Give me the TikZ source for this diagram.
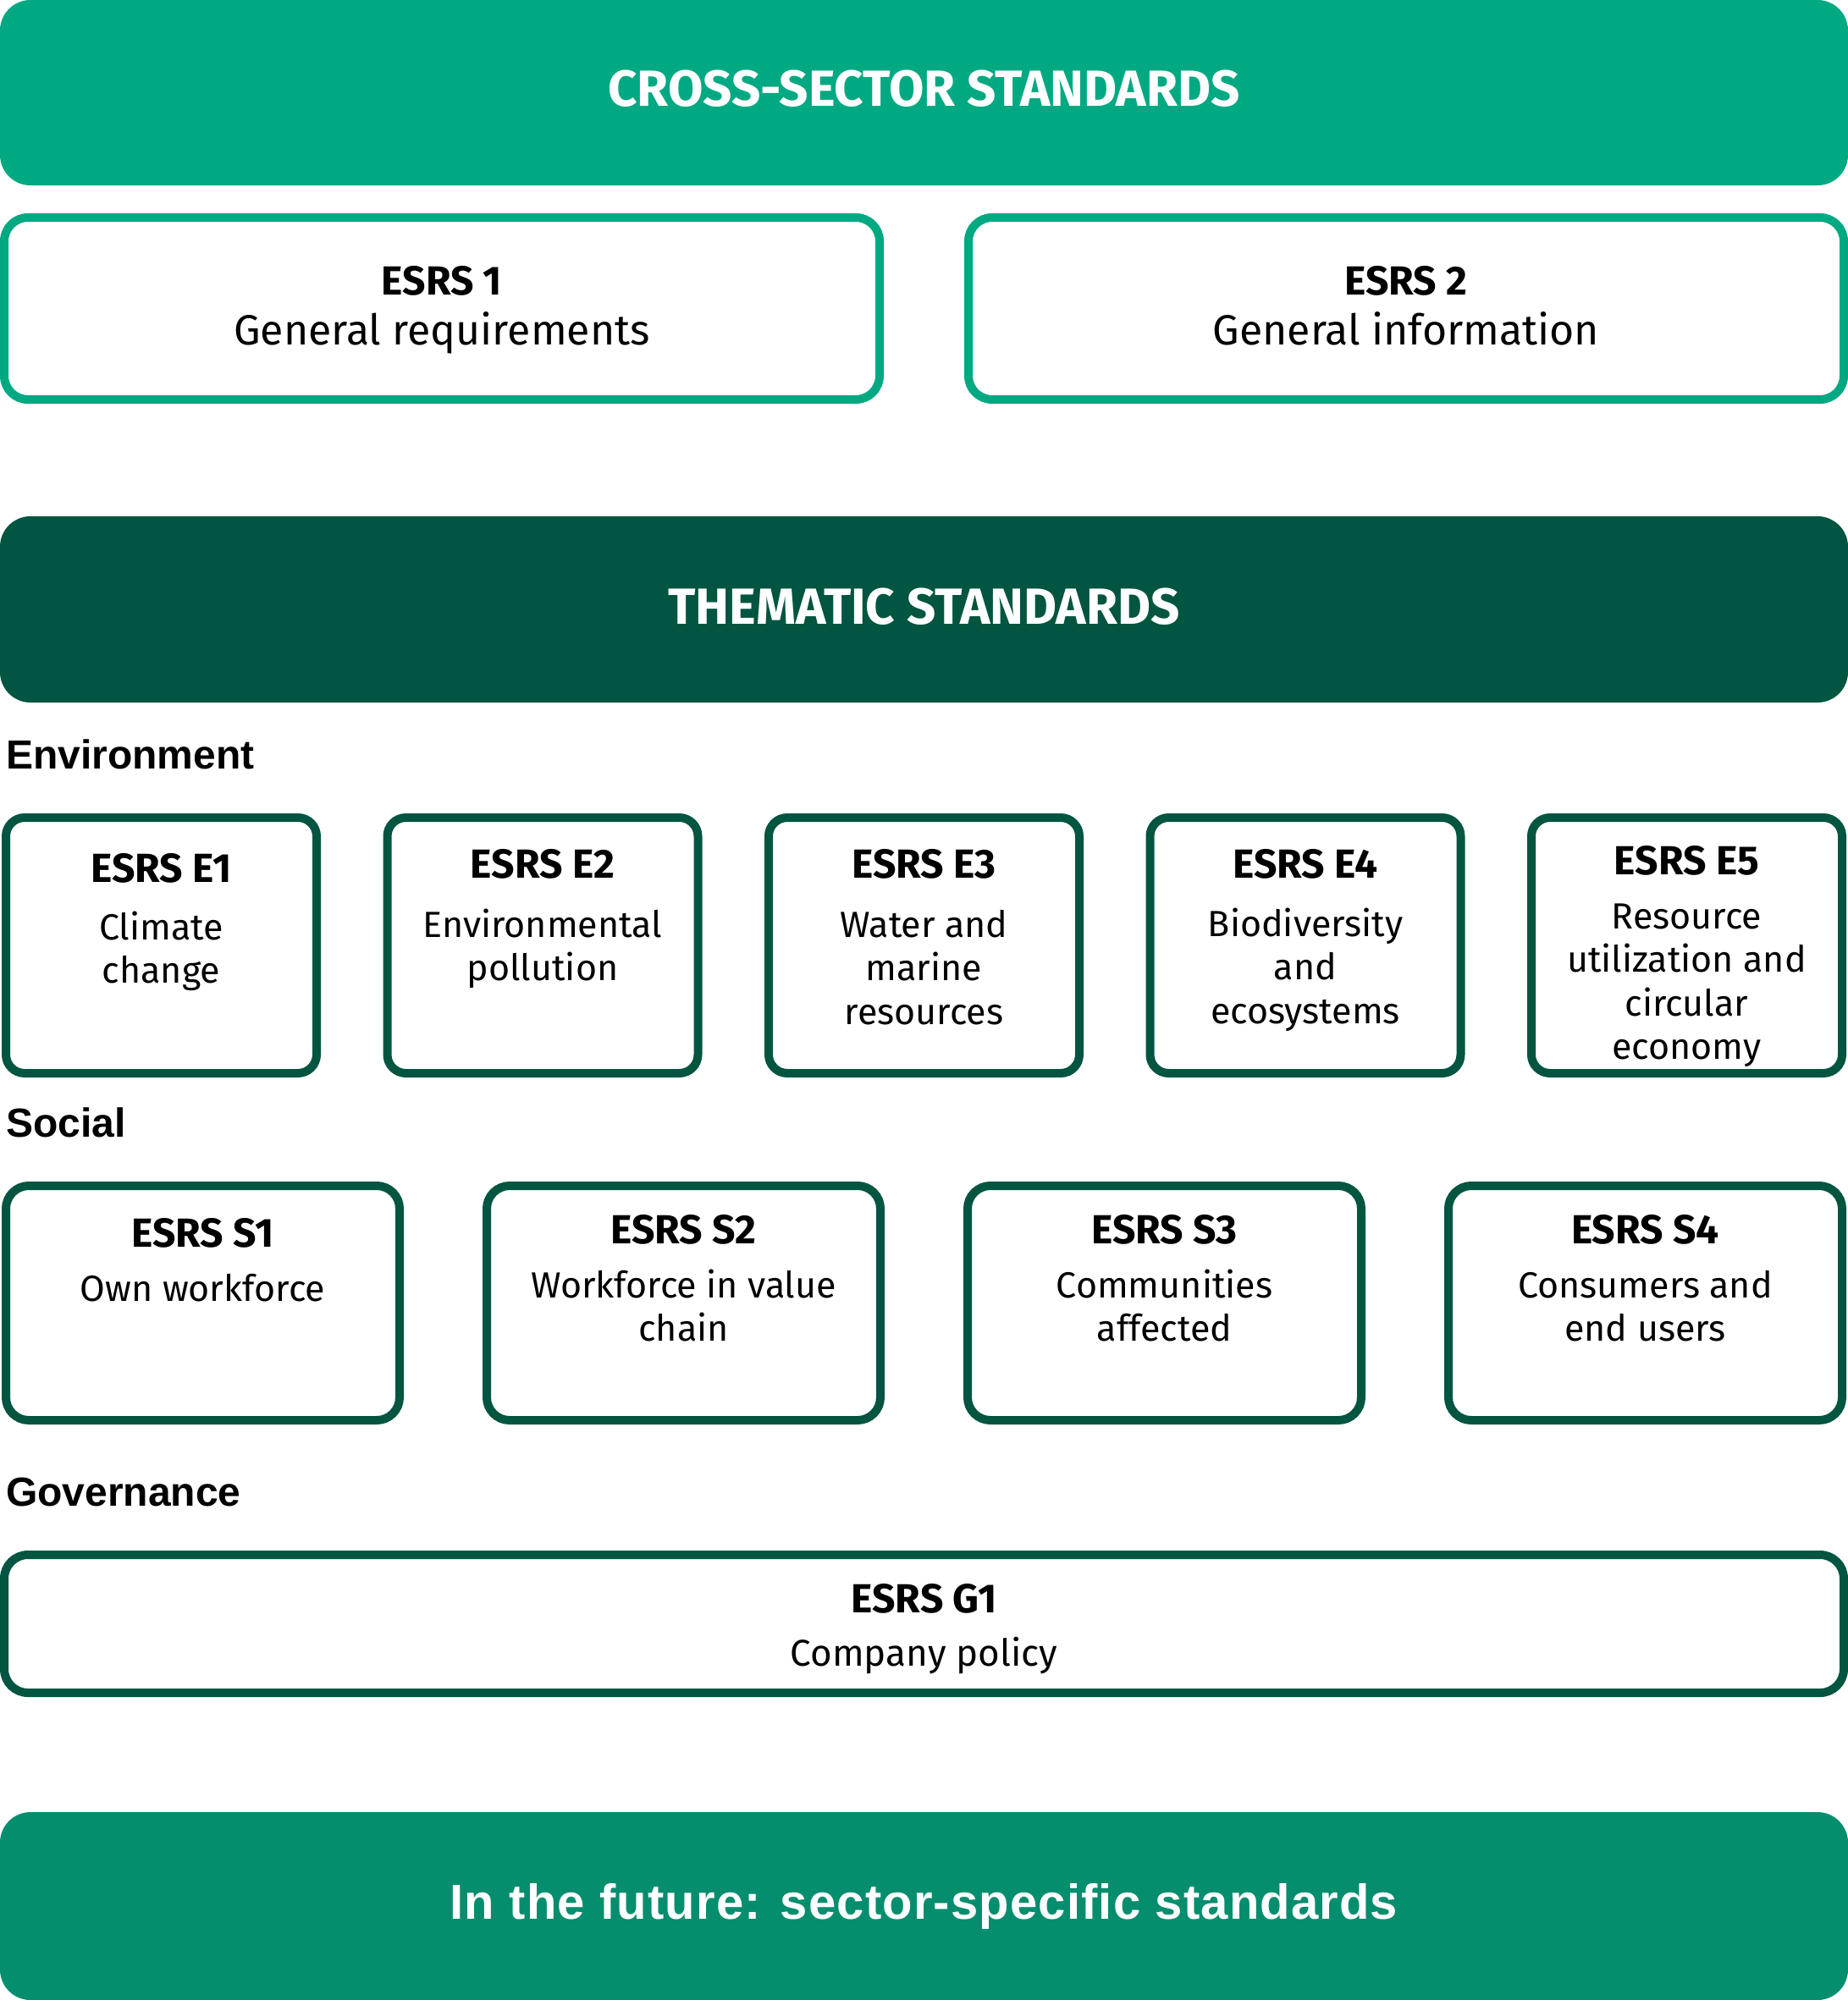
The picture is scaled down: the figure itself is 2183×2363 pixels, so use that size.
\documentclass[tikz,border=0pt]{standalone}
\usepackage{fontspec}
\setmainfont{Fira Sans}
\newfontfamily\labelfont{Liberation Sans}
\newfontfamily\futurefont[LetterSpace=2]{Liberation Sans}
\usetikzlibrary{positioning}
\definecolor{crossgreen}{RGB}{0,169,130}
\definecolor{themegreen}{RGB}{2,85,64}
\definecolor{futuregreen}{RGB}{4,142,110}

\begin{document}
\begin{tikzpicture}[
        x=1pt, y=-1pt,
        banner/.style={rectangle, rounded corners=36pt, inner sep=0pt, minimum width=2183pt},
        bannertext/.style={font=\bfseries\fontsize{60}{60}\selectfont, text=white, anchor=base, inner sep=0pt},
        crossbox/.style={draw=crossgreen, line width=10pt, rounded corners=28pt, inner sep=0pt, minimum width=1034pt, minimum height=215pt},
        ebox/.style={draw=themegreen, line width=10pt, rounded corners=22pt, inner sep=0pt, minimum width=367pt, minimum height=302pt},
        sbox/.style={draw=themegreen, line width=10pt, rounded corners=27pt, inner sep=0pt, minimum width=465pt, minimum height=277pt},
        gbox/.style={draw=themegreen, line width=10pt, rounded corners=28pt, inner sep=0pt, minimum width=2173pt, minimum height=163pt},
        head/.style={font=\bfseries\fontsize{48}{48}\selectfont, anchor=base, inner sep=0pt},
        % anchor=base of a multi-line text sits on its last line
        desc/.style={font=\fontsize{43}{51.5}\selectfont, align=center, anchor=base, inner sep=0pt},
        group label/.style={font=\labelfont\bfseries\fontsize{48}{48}\selectfont, anchor=base west, inner sep=0pt}
    ]
    \useasboundingbox (0,0) rectangle (2183,2363);

    % cross-sector
    \node[banner, fill=crossgreen, minimum height=219pt] (cross) at (1091.5,109.5) {};
    \node[bannertext] (crosstitle) at (1091.5,126) {CROSS-SECTOR STANDARDS};

    \node[crossbox] (esrs1) at (522,364.5) {};
    \node[head] (esrs1head) at (522,348) {ESRS 1};
    \node[desc, font=\fontsize{50}{50}\selectfont] (esrs1desc) at (522,407) {General requirements};

    \node[crossbox] (esrs2) at (1661,364.5) {};
    \node[head] (esrs2head) at (1661,348) {ESRS 2};
    \node[desc, font=\fontsize{50}{50}\selectfont] (esrs2desc) at (1661,407) {General information};

    % thematic
    \node[banner, fill=themegreen, minimum height=220pt] (thematic) at (1091.5,720) {};
    \node[bannertext] (thematictitle) at (1091.5,737) {THEMATIC STANDARDS};

    \node[group label] (environment) at (7,908) {Environment};

    \node[ebox] (e1) at (190.5,1117) {};
    \node[head] (e1head) at (190.5,1042) {ESRS E1};
    \node[desc] (e1desc) at (190.5,1161.5) {Climate\\change};

    \node[ebox] (e2) at (641,1117) {};
    \node[head] (e2head) at (641,1037) {ESRS E2};
    \node[desc] (e2desc) at (641,1158.5) {Environmental\\pollution};

    \node[ebox] (e3) at (1091.5,1117) {};
    \node[head] (e3head) at (1091.5,1037) {ESRS E3};
    \node[desc] (e3desc) at (1091.5,1210) {Water and\\marine\\resources};

    \node[ebox] (e4) at (1542,1117) {};
    \node[head] (e4head) at (1542,1037) {ESRS E4};
    \node[desc] (e4desc) at (1542,1209) {Biodiversity\\and\\ecosystems};

    \node[ebox] (e5) at (1992.5,1117) {};
    \node[head] (e5head) at (1992.5,1033) {ESRS E5};
    \node[desc] (e5desc) at (1992.5,1251.5) {Resource\\utilization and\\circular\\economy};

    \node[group label] (social) at (7,1343) {Social};

    \node[sbox] (s1) at (239.5,1539.5) {};
    \node[head] (s1head) at (239.5,1473) {ESRS S1};
    \node[desc] (s1desc) at (239.5,1537) {Own workforce};

    \node[sbox] (s2) at (807.5,1539.5) {};
    \node[head] (s2head) at (807.5,1469) {ESRS S2};
    \node[desc] (s2desc) at (807.5,1584.5) {Workforce in value\\chain};

    \node[sbox] (s3) at (1375.5,1539.5) {};
    \node[head] (s3head) at (1375.5,1469) {ESRS S3};
    \node[desc] (s3desc) at (1375.5,1584.5) {Communities\\affected};

    \node[sbox] (s4) at (1943.5,1539.5) {};
    \node[head] (s4head) at (1943.5,1469) {ESRS S4};
    \node[desc] (s4desc) at (1943.5,1584.5) {Consumers and\\end users};

    \node[group label] (governance) at (7,1779) {Governance};

    \node[gbox] (g1) at (1091.5,1918.5) {};
    \node[head] (g1head) at (1091.5,1905) {ESRS G1};
    \node[desc, font=\fontsize{44}{44}\selectfont] (g1desc) at (1091.5,1968) {Company policy};

    % sector-specific
    \node[banner, fill=futuregreen, minimum height=222pt] (future) at (1091.5,2252) {};
    \node[font=\futurefont\bfseries\fontsize{58}{58}\selectfont, text=white, anchor=base, inner sep=0pt] (futuretitle) at (1091.5,2267) {In the future: sector-specific standards};
\end{tikzpicture}
\end{document}
